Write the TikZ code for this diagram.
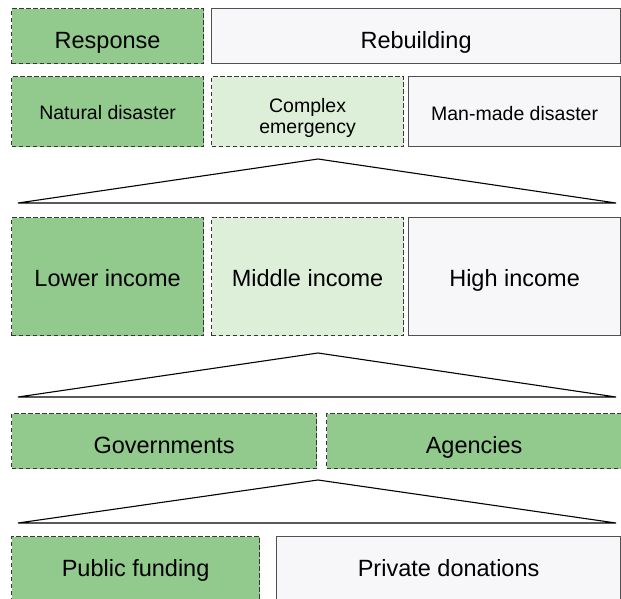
\documentclass[tikz,border=0pt]{standalone}
\usepackage{fontspec}
\setmainfont{Liberation Sans}
\definecolor{dkgreen}{RGB}{146,201,141}
\definecolor{ltgreen}{RGB}{221,239,217}
\definecolor{offwhite}{RGB}{247,247,249}
\definecolor{dashgray}{RGB}{55,55,55}
\definecolor{solidgray}{RGB}{80,80,80}
\tikzset{
  base/.style={rectangle, anchor=north west, inner sep=0pt, line width=1.2pt, align=center, font=\fontsize{23.5}{26}\selectfont},
  dkbox/.style={base, fill=dkgreen, draw=dashgray, dash pattern=on 4.5pt off 2.5pt},
  ltbox/.style={base, fill=ltgreen, draw=dashgray, dash pattern=on 4.5pt off 2.5pt},
  whbox/.style={base, fill=offwhite, draw=solidgray},
  small/.style={font=\fontsize{19.5}{21}\selectfont},
  txtdrop/.style={text height=#1, text depth=0pt},
  tri/.style={draw=black, line width=1.1pt, line join=miter}
}
\begin{document}
\begin{tikzpicture}[x=1pt, y=-1pt]
\useasboundingbox (0,0) rectangle (621,599);
% row 1
\node[dkbox, txtdrop=25pt, minimum width=192pt, minimum height=55pt] (resp) at (11,8) {Response};
\node[whbox, txtdrop=25pt, minimum width=409pt, minimum height=55pt] (rebuild) at (211,8) {Rebuilding};
% row 2
\node[dkbox, small, txtdrop=16pt, minimum width=192pt, minimum height=70pt] (natural) at (11,76) {Natural disaster};
\node[ltbox, small, txtdrop=44pt, minimum width=192pt, minimum height=70pt] (complex) at (211,76) {Complex\\emergency};
\node[whbox, small, txtdrop=18pt, minimum width=212pt, minimum height=70pt] (manmade) at (408,76) {Man-made disaster};
% triangle 1
\coordinate (t1a) at (318,159);
\coordinate (t1l) at (18,203);
\coordinate (t1r) at (616,203);
\draw[tri] (t1a) -- (t1l) -- (t1r) -- cycle;
% row 3
\node[dkbox, txtdrop=20pt, minimum width=192pt, minimum height=118pt] (lower) at (11,217) {Lower income};
\node[ltbox, txtdrop=20pt, minimum width=192pt, minimum height=118pt] (middle) at (211,217) {Middle income};
\node[whbox, txtdrop=20pt, minimum width=212pt, minimum height=118pt] (high) at (408,217) {High income};
% triangle 2
\coordinate (t2a) at (318,353);
\coordinate (t2l) at (18,397);
\coordinate (t2r) at (616,397);
\draw[tri] (t2a) -- (t2l) -- (t2r) -- cycle;
% row 4
\node[dkbox, txtdrop=25pt, minimum width=305pt, minimum height=55pt] (gov) at (11,413) {Governments};
\node[dkbox, txtdrop=25pt, minimum width=295pt, minimum height=55pt] (agencies) at (326,413) {Agencies};
% triangle 3
\coordinate (t3a) at (318,480);
\coordinate (t3l) at (18,523);
\coordinate (t3r) at (616,523);
\draw[tri] (t3a) -- (t3l) -- (t3r) -- cycle;
% row 5
\node[dkbox, txtdrop=14pt, minimum width=248pt, minimum height=66pt] (public) at (11,536) {Public funding};
\node[whbox, txtdrop=14pt, minimum width=344pt, minimum height=66pt] (private) at (276,536) {Private donations};
\end{tikzpicture}
\end{document}
